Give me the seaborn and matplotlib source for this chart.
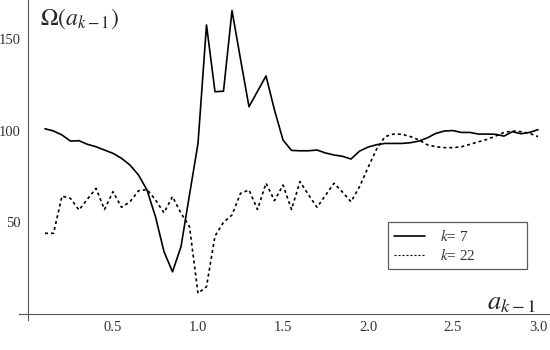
import numpy as np
import pandas as pd
import matplotlib
matplotlib.use("Agg")
import matplotlib.pyplot as plt
from matplotlib.lines import Line2D
import seaborn as sns

# grid of a_{k-1} values (step 0.05)
a_vals = [0.10, 0.15, 0.20, 0.25, 0.30, 0.35, 0.40, 0.45, 0.50, 0.55,
          0.60, 0.65, 0.70, 0.75, 0.80, 0.85, 0.90, 0.95, 1.00, 1.05,
          1.10, 1.15, 1.20, 1.25, 1.30, 1.35, 1.40, 1.45, 1.50, 1.55,
          1.60, 1.65, 1.70, 1.75, 1.80, 1.85, 1.90, 1.95, 2.00, 2.05,
          2.10, 2.15, 2.20, 2.25, 2.30, 2.35, 2.40, 2.45, 2.50, 2.55,
          2.60, 2.65, 2.70, 2.75, 2.80, 2.85, 2.90, 2.95, 3.00]

omega_k7 = [101.0, 99.8, 97.6, 94.3, 94.5, 92.5, 91.2, 89.4, 87.6, 84.9,
            81.2, 75.8, 67.6, 53.0, 34.0, 23.0, 36.7, 65.0, 93.0, 157.6,
            121.2, 121.5, 165.4, 139.0, 113.0, 121.4, 129.8, 111.2, 94.9, 89.2,
            89.0, 89.0, 89.4, 87.8, 86.7, 86.0, 84.5, 88.8, 91.0, 92.3,
            93.0, 93.0, 93.0, 93.4, 94.3, 96.1, 98.5, 99.8, 100.0, 99.0,
            99.0, 98.1, 98.1, 98.0, 97.0, 99.4, 98.3, 99.0, 100.5]

omega_k22 = [44.0, 44.0, 64.3, 63.0, 56.7, 62.7, 68.5, 57.0, 66.7, 58.2,
             61.2, 67.2, 67.9, 62.2, 55.2, 64.0, 55.0, 47.6, 11.3, 14.9,
             42.5, 50.0, 54.0, 65.8, 67.6, 57.0, 71.3, 61.8, 70.3, 57.0,
             72.2, 65.0, 58.2, 64.7, 71.3, 66.5, 61.2, 69.4, 79.8, 89.8,
             96.7, 98.1, 98.0, 96.7, 94.9, 92.2, 91.2, 90.7, 90.7, 91.2,
             92.5, 93.9, 95.2, 97.0, 99.0, 99.8, 99.4, 98.5, 96.7]

labels = [r"$k$= 7", r"$k$= 22"]

df = pd.concat([
    pd.DataFrame({"a": a_vals, "omega": omega_k7, "k": labels[0]}),
    pd.DataFrame({"a": a_vals, "omega": omega_k22, "k": labels[1]}),
])

sns.set_style("white")
plt.rcParams["font.family"] = ["Liberation Serif", "DejaVu Serif"]
plt.rcParams["mathtext.fontset"] = "stix"

fig = plt.figure(figsize=(5.5, 3.5), dpi=100)
ax = fig.add_axes([0, 0, 1, 1])

sns.lineplot(data=df, x="a", y="omega", hue="k", style="k",
             palette=["black", "black"],
             dashes={labels[0]: "", labels[1]: (1.8, 1.8)},
             linewidth=1.2, ax=ax, legend=False)

ax.set_xlim(-28 / 170, 522 / 170)
ax.set_ylim(-36 / 1.834, 314 / 1.834)

# Mathematica style axes crossing at origin
axis_col = "#555555"
for side in ["top", "right"]:
    ax.spines[side].set_visible(False)
ax.spines["left"].set_position(("data", 0))
ax.spines["bottom"].set_position(("data", 0))
ax.spines["left"].set_bounds(-3, 172)
ax.spines["bottom"].set_bounds(-0.05, 3.07)
for side in ["left", "bottom"]:
    ax.spines[side].set_color(axis_col)
    ax.spines[side].set_linewidth(0.8)

ax.set_xticks([0.5, 1.0, 1.5, 2.0, 2.5, 3.0])
ax.set_xticklabels(["0.5", "1.0", "1.5", "2.0", "2.5", "3.0"])
ax.set_xticks(np.arange(0.1, 3.05, 0.1), minor=True)
ax.set_yticks([50, 100, 150])
ax.set_yticklabels(["50", "100", "150"])
ax.set_yticks(np.arange(10, 171, 10), minor=True)
ax.tick_params(which="both", direction="in", colors=axis_col, labelcolor="#333333",
               labelsize=10.5, width=0.6)
ax.tick_params(which="major", length=4, pad=5)
ax.tick_params(which="minor", length=2)
ax.set_xlabel("")
ax.set_ylabel("")

fig.text(40 / 550, 1 - 25 / 350, r"$\Omega(a_{k-1})$", fontsize=17,
         ha="left", va="baseline")
fig.text(487 / 550, 1 - 309 / 350, r"$a_{k-1}$", fontsize=19,
         ha="left", va="baseline")

handles = [Line2D([], [], color="black", lw=1.2),
           Line2D([], [], color="black", lw=0.8, dashes=(1.8, 1.8))]
leg = ax.legend(handles, labels, loc="upper left", mode="expand",
                bbox_to_anchor=(388 / 550, 1 - 268 / 350, 139 / 550, 46 / 350),
                bbox_transform=fig.transFigure, fontsize=11,
                frameon=True, fancybox=False, edgecolor="#333333",
                borderaxespad=0, borderpad=0.4, handlelength=2.0,
                handletextpad=1.0, labelspacing=0.2)
leg.get_frame().set_linewidth(0.9)
for t in leg.get_texts():
    t.set_color("#333333")

fig.savefig("out.png", dpi=100)
